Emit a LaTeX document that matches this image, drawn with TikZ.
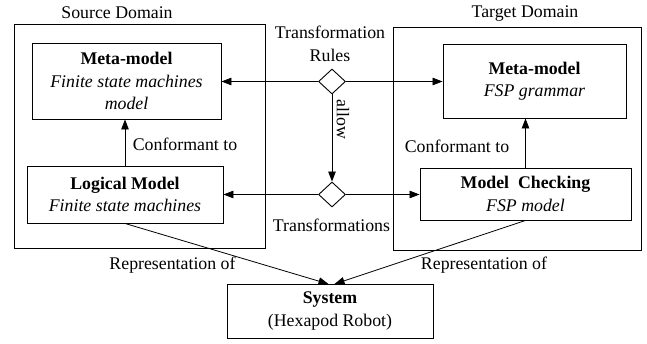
\documentclass[tikz,border=0pt]{standalone}
\usepackage{fontspec}
\setmainfont{Liberation Serif}
\usetikzlibrary{arrows.meta,shapes.geometric}
\begin{document}
\begin{tikzpicture}[x=1pt,y=-1pt,
  every node/.style={font=\fontsize{17.8}{22.5}\selectfont},
  box/.style={draw,line width=0.9pt,fill=white,inner sep=0pt,align=center},
  dom/.style={draw,line width=0.9pt,inner sep=0pt},
  gate/.style={draw,line width=0.9pt,fill=white,diamond,inner sep=0pt,
    minimum width=27pt,minimum height=25pt},
  lbl/.style={inner sep=0pt,align=center},
  arr/.style={line width=0.8pt,-{Triangle[length=10pt,width=7.5pt]}}]
\useasboundingbox (0,0) rectangle (647,343);

% domain frames
\node[dom,minimum width=251pt,minimum height=224pt] (srcdom) at (139.5,136) {};
\node[dom,minimum width=248pt,minimum height=223pt] (tgtdom) at (517,138.5) {};
\node[lbl] (srclbl) at (117,13) {Source Domain};
\node[lbl] (tgtlbl) at (525,14) {Target Domain};

% model boxes
\node[box,minimum width=189pt,minimum height=76pt] (metaL) at (126.5,81)
  {\textbf{Meta-model}\\\textit{Finite state machines}\\\textit{model}};
\node[box,minimum width=196pt,minimum height=57pt] (logic) at (125,194.5)
  {\textbf{Logical Model}\\\textit{Finite state machines}};
\node[box,minimum width=183pt,minimum height=74pt] (metaR) at (534.5,81)
  {\textbf{Meta-model}\\\textit{FSP grammar}};
\node[box,minimum width=211pt,minimum height=52pt] (check) at (525.5,194)
  {\textbf{Model\ \ Checking}\\\textit{FSP model}};
\node[box,minimum width=206pt,minimum height=54pt] (sys) at (330,311)
  {\textbf{System}\\(Hexapod Robot)};

% transformation gates
\node[gate] (rules) at (332,81.5) {};
\node[gate] (trans) at (332,194.5) {};
\node[lbl] (ruleslbl) at (330,44) {Transformation\\Rules};
\node[lbl] (translbl) at (331.5,225) {Transformations};

% connectors
\draw[arr] (rules.west) -- (rules.west -| metaL.east);
\draw[arr] (rules.east) -- (rules.east -| metaR.west);
\draw[arr] (trans.west) -- (trans.west -| logic.east);
\draw[arr] (trans.east) -- (trans.east -| check.west);
\draw[arr] (rules.south) -- (trans.north);
\node[lbl,rotate=-90] (allowlbl) at (343,119.5) {allow};

\draw[arr] (logic.north) -- (logic.north |- metaL.south);
\draw[arr] (check.north) -- (check.north |- metaR.south);
\node[lbl] (confL) at (185,144) {Conformant to};
\node[lbl] (confR) at (457,146) {Conformant to};

\coordinate (sysL) at (328.5,284);
\coordinate (sysR) at (334.5,284);
\draw[arr] (logic.south) -- (sysL);
\draw[arr] (check.south) -- (sysR);
\node[lbl] (repL) at (172.5,265) {Representation of};
\node[lbl] (repR) at (484,265) {Representation of};
\end{tikzpicture}
\end{document}
